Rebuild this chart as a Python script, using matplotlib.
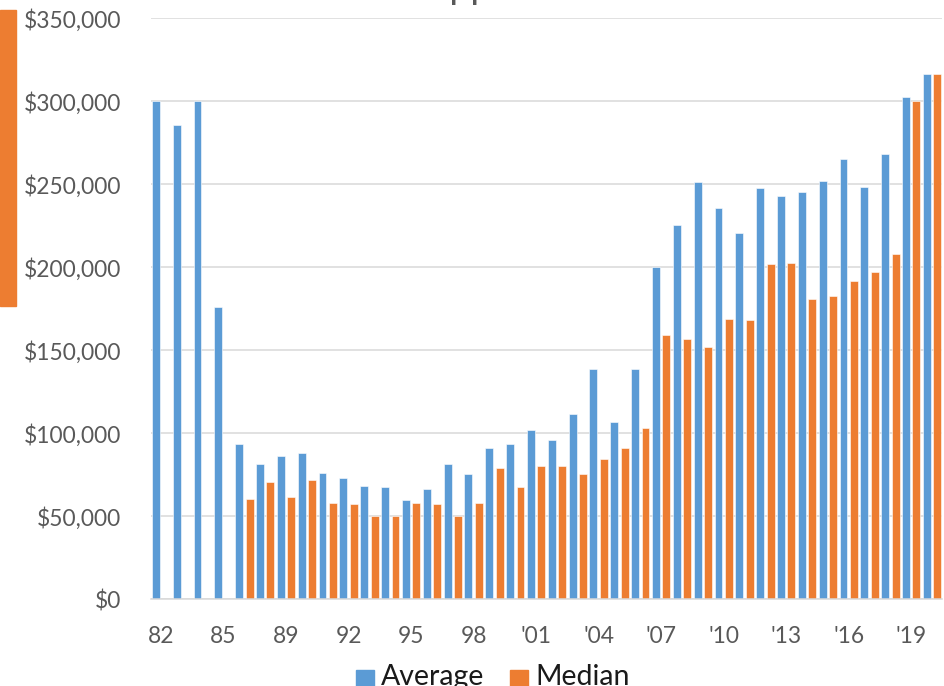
import numpy as np
import matplotlib
matplotlib.use("Agg")
import matplotlib.pyplot as plt
from matplotlib.patches import Rectangle
from matplotlib.ticker import FuncFormatter, MultipleLocator

years = ["82", "83", "84", "85", "87", "88", "89", "90", "91", "92", "93", "94",
         "95", "96", "97", "98", "99", "'00", "'01", "'02", "'03", "'04", "'05",
         "'06", "'07", "'08", "'09", "'10", "'11", "'12", "'13", "'14", "'15",
         "'16", "'17", "'18", "'19", "'20"]

average = [300000, 285500, 300000, 176300, 93500, 81300, 86300, 87900, 76100,
           73100, 68100, 67500, 59700, 66400, 81700, 75300, 91100, 93800,
           102000, 96000, 111400, 138900, 106800, 138700, 200000, 225300,
           251200, 235700, 220700, 247800, 242800, 245400, 251800, 265200,
           248400, 268400, 302600, 316600]

median = [np.nan, np.nan, np.nan, np.nan, 60200, 70500, 61400, 71700, 57800,
          57200, 50200, 50200, 57800, 57200, 50200, 58200, 79300, 67500,
          80100, 80100, 75300, 84300, 91100, 103200, 159000, 156800, 152000,
          169000, 168100, 202000, 202600, 180900, 182700, 191700, 197000,
          208000, 300000, 316600]

series_names = ["Average", "Median"]
title = "Approved"
BLUE = "#5B9BD5"
ORANGE = "#ED7D31"
GRID = "#D9D9D9"
TXT = "#595959"
FONT = "Lato"

W, H = 945, 686
fig = plt.figure(figsize=(W / 100, H / 100), dpi=100)

# plot area in pixel terms
left_px, right_px = 150.6, 942.5
bottom_px, top_px = 599.3, 18.3
ax = fig.add_axes([left_px / W, (H - bottom_px) / H,
                   (right_px - left_px) / W, (bottom_px - top_px) / H])

x = np.arange(len(years))
bw = 0.38
ax.bar(x - 0.25, average, width=bw, color=BLUE, edgecolor="white",
       linewidth=0.4, zorder=3)
ax.bar(x + 0.25, median, width=bw, color=ORANGE, edgecolor="white",
       linewidth=0.4, zorder=3)

ax.set_xlim(-0.5, len(years) - 0.5)
ax.set_ylim(0, 350000)
ax.yaxis.set_major_locator(MultipleLocator(50000))
ax.yaxis.set_major_formatter(FuncFormatter(lambda v, p: f"${v:,.0f}"))
ax.grid(axis="y", color=GRID, linewidth=1.1, zorder=0)
ax.set_axisbelow(True)

ax.set_xticks(x[::3])
ax.set_xticklabels(years[::3])

for s in ["top", "right", "left"]:
    ax.spines[s].set_visible(False)
ax.spines["bottom"].set_color(GRID)
ax.spines["bottom"].set_linewidth(1.1)
ax.spines["bottom"].set_zorder(4)

ax.tick_params(axis="both", length=0, labelsize=16.4, labelcolor=TXT)
ax.tick_params(axis="y", pad=21)
ax.tick_params(axis="x", pad=19)
for lab in ax.get_xticklabels() + ax.get_yticklabels():
    lab.set_fontfamily(FONT)

# title sits above the top edge; place it so the "pp" stems start near x=453
renderer = fig.canvas.get_renderer()
probe = fig.text(0, 0, title[0], fontsize=27, fontfamily=FONT)
lead_px = probe.get_window_extent(renderer).width
probe.remove()
fig.text((453 - lead_px - 3) / W, (H + 1.6) / H, title, fontsize=27,
         color=TXT, fontfamily=FONT, ha="left", va="baseline")

# orange band at the left edge
fig.patches.append(Rectangle((0, (H - 306) / H), 16 / W, 296 / H,
                             transform=fig.transFigure, color=ORANGE,
                             zorder=1))

# legend along the bottom edge
for (sx, tx), name, col in zip([(356, 381), (510, 535)], series_names,
                               [BLUE, ORANGE]):
    fig.patches.append(Rectangle((sx / W, -2 / H), 18 / W, 18 / H,
                                 transform=fig.transFigure, color=col))
    fig.text(tx / W, 1 / H, name, fontsize=20.5, color="#1a1a1a",
             fontfamily=FONT, ha="left", va="baseline")

fig.savefig("out.png", dpi=100)
